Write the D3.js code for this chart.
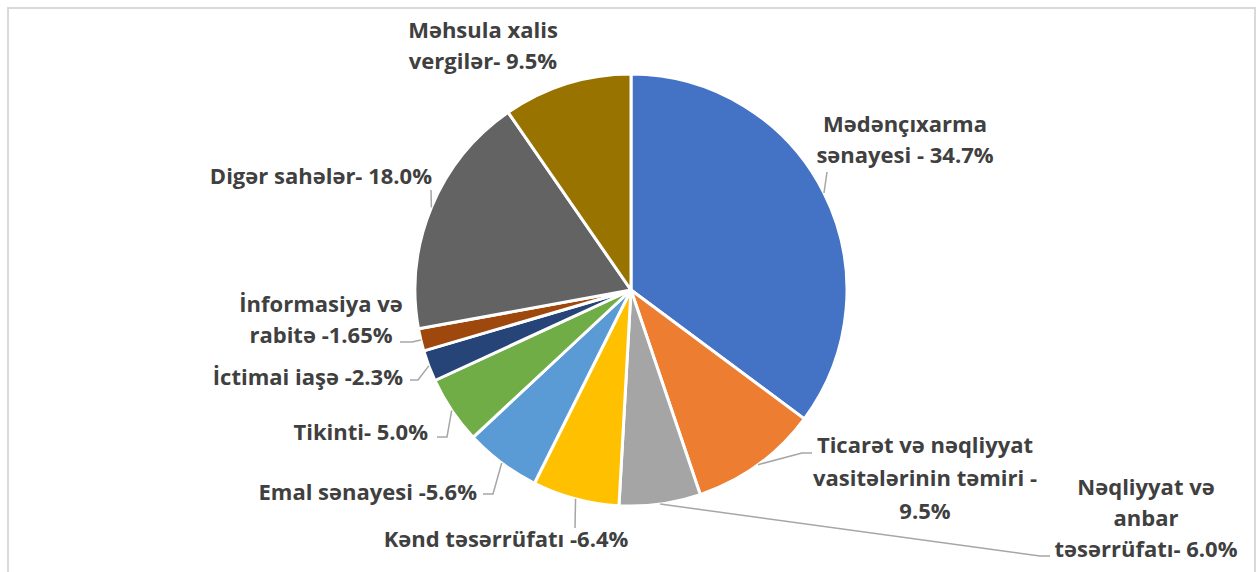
<!DOCTYPE html>
<html>
<head>
<meta charset="utf-8">
<script src="https://cdn.jsdelivr.net/npm/d3@7"></script>
<style>
  body { margin: 0; background: #fff; }
  svg { display: block; }
  .lbl { font-family: "Open Sans", Lato, sans-serif; font-weight: bold; font-size: 22px; fill: #404040; }
</style>
</head>
<body>
<div id="chart"></div>
<script>
// data
var categories = ["Mədənçıxarma sənayesi", "Ticarət və nəqliyyat vasitələrinin təmiri", "Nəqliyyat və anbar təsərrüfatı",
    "Kənd təsərrüfatı", "Emal sənayesi", "Tikinti", "İctimai iaşə", "İnformasiya və rabitə", "Digər sahələr", "Məhsula xalis vergilər"]
var values = [34.7, 9.5, 6.0, 6.4, 5.6, 5.0, 2.3, 1.65, 18.0, 9.5]
var labelLines = [
    ["Mədənçıxarma", "sənayesi - 34.7%"],
    ["Ticarət və nəqliyyat", "vasitələrinin təmiri -", "9.5%"],
    ["Nəqliyyat və", "anbar", "təsərrüfatı- 6.0%"],
    ["Kənd təsərrüfatı -6.4%"],
    ["Emal sənayesi -5.6%"],
    ["Tikinti- 5.0%"],
    ["İctimai iaşə -2.3%"],
    ["İnformasiya və", "rabitə -1.65%"],
    ["Digər sahələr- 18.0%"],
    ["Məhsula xalis", "vergilər- 9.5%"]
]
var colors = ["#4472c4", "#ed7d31", "#a5a5a5", "#ffc000", "#5b9bd5", "#70ad47", "#264478", "#9e480e", "#636363", "#997300"]

// label layout (text anchor x, first baseline y, anchor, line gap, leader points after the slice edge)
var labelLayout = [
    { x: 905, y: 132, anchor: "middle", gap: 31, leader: [[827, 172]] },
    { x: 925, y: 453, anchor: "middle", gap: 33, leader: [[802, 453], [812, 453]] },
    { x: 1146, y: 495, anchor: "middle", gap: 31, leader: [[1040, 556], [1050, 556]] },
    { x: 506, y: 547, anchor: "middle", gap: 31, leader: [[575, 528]] },
    { x: 477, y: 500, anchor: "end", gap: 31, leader: [[493, 494], [483, 494]] },
    { x: 428, y: 440, anchor: "end", gap: 31, leader: [[447, 437], [437, 437]] },
    { x: 403, y: 385, anchor: "end", gap: 31, leader: [[418, 380], [410, 380]] },
    { x: 321, y: 312, anchor: "middle", gap: 31, leader: [[412, 342], [400, 342]] },
    { x: 432, y: 184, anchor: "end", gap: 31, leader: [[431, 190]] },
    { x: 483, y: 38, anchor: "middle", gap: 31, leader: null }
]

var width = 1258, height = 572
var cx = 631, cy = 290, radius = 216

var svg = d3.select("#chart").append("svg")
    .attr("width", width)
    .attr("height", height)

// chart frame
svg.append("rect")
    .attr("x", 8).attr("y", 8)
    .attr("width", 1247).attr("height", 600)
    .attr("fill", "none")
    .attr("stroke", "#d9d9d9")
    .attr("stroke-width", 2)

var pie = d3.pie().sort(null).value(d => d)
var arcs = pie(values)
var arc = d3.arc().innerRadius(0).outerRadius(radius)

var g = svg.append("g").attr("transform", "translate(" + cx + "," + cy + ")")

g.selectAll("path.slice")
    .data(arcs)
    .enter().append("path")
    .attr("class", "slice")
    .attr("d", arc)
    .attr("fill", (d, i) => colors[i])
    .attr("stroke", "#fff")
    .attr("stroke-width", 3)
    .attr("stroke-linejoin", "round")

// leader lines: from slice edge at mid angle to label
var edgePoint = function (d) {
    var a = (d.startAngle + d.endAngle) / 2
    return [cx + radius * Math.sin(a), cy - radius * Math.cos(a)]
}
svg.selectAll("polyline.leader")
    .data(arcs.filter((d, i) => labelLayout[i].leader))
    .enter().append("polyline")
    .attr("class", "leader")
    .attr("points", d => [edgePoint(d)].concat(labelLayout[d.index].leader).map(p => p.join(",")).join(" "))
    .attr("fill", "none")
    .attr("stroke", "#a6a6a6")
    .attr("stroke-width", 1.5)

// labels
var labels = svg.selectAll("text.lbl")
    .data(labelLines)
    .enter().append("text")
    .attr("class", "lbl")
    .attr("text-anchor", (d, i) => labelLayout[i].anchor)

labels.each(function (lines, i) {
    var L = labelLayout[i]
    d3.select(this).selectAll("tspan")
        .data(lines)
        .enter().append("tspan")
        .attr("x", L.x)
        .attr("y", (t, j) => L.y + j * L.gap)
        .text(t => t)
})
</script>
</body>
</html>
